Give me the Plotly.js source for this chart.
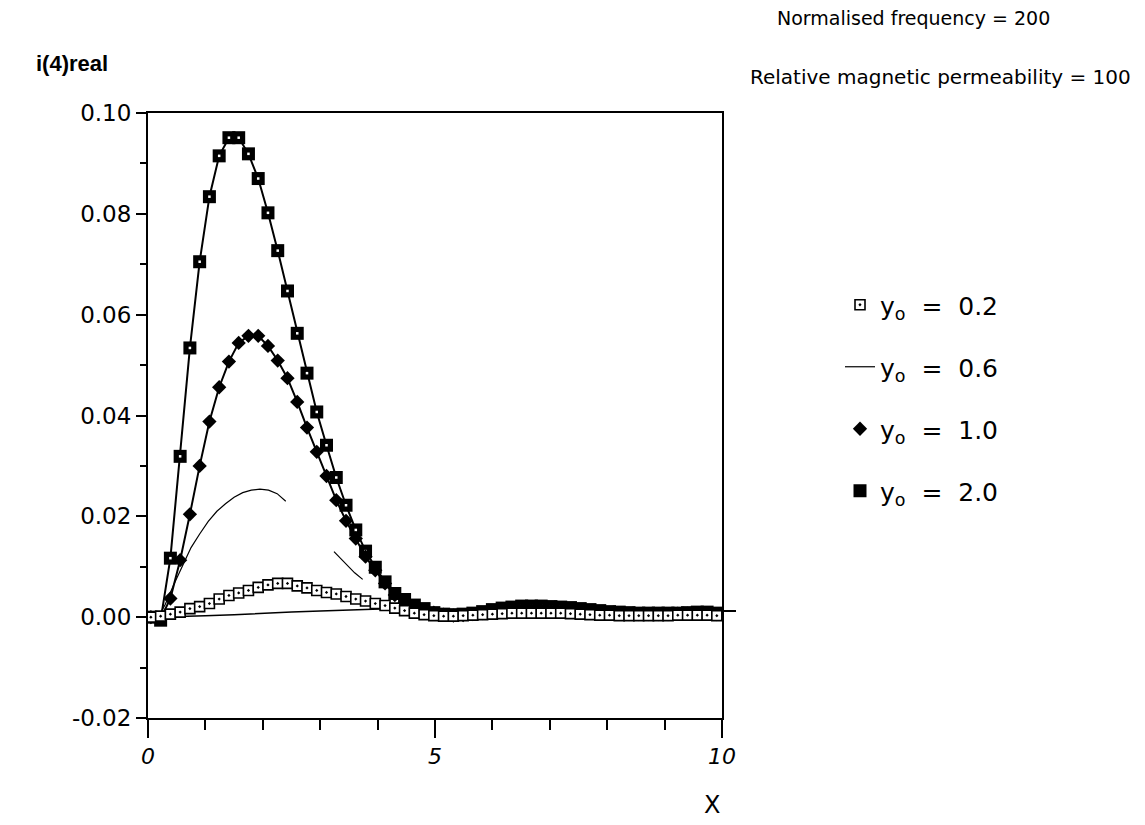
<!DOCTYPE html>
<html>
<head>
<meta charset="utf-8">
<script src="https://cdn.plot.ly/plotly-3.0.1.min.js"></script>
<style>
  html, body { margin: 0; padding: 0; background: #ffffff; }
  #chart { width: 1145px; height: 825px; }
</style>
</head>
<body>
<div id="chart"></div>
<script>
// Sample positions along x shared by the marker series
const xGrid = [0.05, 0.22, 0.39, 0.56, 0.73, 0.90, 1.07, 1.24, 1.41, 1.58,
  1.75, 1.92, 2.09, 2.26, 2.43, 2.60, 2.77, 2.94, 3.11, 3.28,
  3.45, 3.62, 3.79, 3.96, 4.13, 4.30, 4.47, 4.64, 4.81, 4.98,
  5.15, 5.32, 5.49, 5.66, 5.83, 6.00, 6.17, 6.34, 6.51, 6.68,
  6.85, 7.02, 7.19, 7.36, 7.53, 7.70, 7.87, 8.04, 8.21, 8.38,
  8.55, 8.72, 8.89, 9.06, 9.23, 9.40, 9.57, 9.74, 9.91];

// i(4)real for y0 = 0.2 (open squares)
const yo02 = [0.0000, 0.0002, 0.0006, 0.0010, 0.0017, 0.0021, 0.0027, 0.0036, 0.0043, 0.0048,
  0.0053, 0.0059, 0.0064, 0.0067, 0.0067, 0.0062, 0.0058, 0.0053, 0.0049, 0.0046,
  0.0041, 0.0036, 0.0032, 0.0027, 0.0023, 0.0018, 0.0013, 0.0008, 0.0005, 0.0003,
  0.0002, 0.0002, 0.0003, 0.0004, 0.0005, 0.0006, 0.0007, 0.0008, 0.0008, 0.0008,
  0.0008, 0.0008, 0.0008, 0.0007, 0.0006, 0.0005, 0.0004, 0.0004, 0.0003, 0.0003,
  0.0003, 0.0003, 0.0003, 0.0003, 0.0004, 0.0004, 0.0004, 0.0004, 0.0003];

// i(4)real for y0 = 1.0 (diamonds)
const yo10 = [0.0000, -0.0003, 0.0037, 0.0113, 0.0204, 0.0300, 0.0388, 0.0456, 0.0507, 0.0544,
  0.0558, 0.0558, 0.0538, 0.0509, 0.0474, 0.0427, 0.0376, 0.0328, 0.0280, 0.0232,
  0.0191, 0.0156, 0.0120, 0.0093, 0.0067, 0.0044, 0.0028, 0.0020, 0.0014, 0.0009,
  0.0005, 0.0003, 0.0004, 0.0006, 0.0008, 0.0010, 0.0012, 0.0013, 0.0014, 0.0014,
  0.0014, 0.0013, 0.0012, 0.0011, 0.0010, 0.0009, 0.0008, 0.0007, 0.0007, 0.0006,
  0.0006, 0.0006, 0.0006, 0.0006, 0.0007, 0.0007, 0.0007, 0.0007, 0.0006];

// i(4)real for y0 = 2.0 (filled squares)
const yo20 = [0.0000, -0.0006, 0.0117, 0.0319, 0.0534, 0.0705, 0.0834, 0.0915, 0.0951, 0.0951,
  0.0919, 0.0870, 0.0802, 0.0727, 0.0647, 0.0563, 0.0484, 0.0407, 0.0341, 0.0277,
  0.0222, 0.0173, 0.0131, 0.0099, 0.0070, 0.0047, 0.0035, 0.0024, 0.0017, 0.0009,
  0.0006, 0.0005, 0.0006, 0.0008, 0.0011, 0.0015, 0.0018, 0.0020, 0.0022, 0.0022,
  0.0022, 0.0021, 0.0020, 0.0019, 0.0017, 0.0015, 0.0013, 0.0011, 0.0010, 0.0009,
  0.0008, 0.0008, 0.0008, 0.0008, 0.0008, 0.0009, 0.0010, 0.0010, 0.0008];

// i(4)real for y0 = 0.6 (thin line, broken between 2.4 and 3.2)
const xYo06 = [0.20, 0.30, 0.45, 0.60, 0.75, 0.90, 1.05, 1.20, 1.35, 1.50,
  1.65, 1.80, 1.95, 2.10, 2.25, 2.40, 2.80, 3.24, 3.35, 3.46, 3.60, 3.74];
const yo06 = [0.0005, 0.0025, 0.0065, 0.0102, 0.0138, 0.0165, 0.0190, 0.0210, 0.0225, 0.0238,
  0.0247, 0.0252, 0.0254, 0.0252, 0.0245, 0.0230, null, 0.0130, 0.0117, 0.0103, 0.0088, 0.0075];

// faint curve lying just above zero
const xBase = [0.05, 0.5, 1.0, 1.5, 2.0, 2.5, 3.0, 3.5, 4.0, 4.3, 4.6, 5.0, 6.0, 7.0, 8.0, 9.0, 10.0];
const base = [0.0000, 0.0001, 0.0003, 0.0005, 0.0008, 0.0010, 0.0012, 0.0014, 0.0016, 0.0017,
  0.0015, 0.0012, 0.0010, 0.0010, 0.0011, 0.0012, 0.0013];

// axis ticks
const xTickVals = [0, 5, 10];
const xTickText = ['0', '5', '10'];
const yTickVals = [-0.02, 0.00, 0.02, 0.04, 0.06, 0.08, 0.10];
const yTickText = ['-0.02', '0.00', '0.02', '0.04', '0.06', '0.08', '0.10'];
const rightTick = [0.0013];

const legendFont = { family: 'DejaVu Sans', size: 25, color: '#000' };

const traces = [
  { x: xBase, y: base, mode: 'lines', line: { color: '#000', width: 1.5 },
    showlegend: false, hoverinfo: 'skip' },
  { x: xYo06, y: yo06, mode: 'lines', name: 'y<sub>o</sub>  =  0.6',
    line: { color: '#000', width: 1.2 }, connectgaps: false,
    legendgroup: 'g2', legendrank: 2 },
  { x: xGrid, y: yo20, mode: 'lines', line: { color: '#000', width: 2 },
    showlegend: false, hoverinfo: 'skip' },
  { x: xGrid, y: yo10, mode: 'lines', line: { color: '#000', width: 2 },
    showlegend: false, hoverinfo: 'skip' },
  { x: xGrid, y: yo20, mode: 'markers', name: 'y<sub>o</sub>  =  2.0',
    marker: { symbol: 'square', size: 13, color: '#000' },
    legendgroup: 'g4', legendrank: 4 },
  { x: xGrid, y: yo20, mode: 'markers',
    marker: { symbol: 'square', size: 2.5, color: '#fff' },
    showlegend: false, hoverinfo: 'skip' },
  { x: xGrid, y: yo10, mode: 'markers', name: 'y<sub>o</sub>  =  1.0',
    marker: { symbol: 'diamond', size: 11, color: '#000' },
    legendgroup: 'g3', legendrank: 3 },
  { x: xGrid, y: yo02, mode: 'markers', name: 'y<sub>o</sub>  =  0.2',
    marker: { symbol: 'square-dot', size: 10, color: '#fff', line: { color: '#000', width: 1.6 } },
    legendgroup: 'g1', legendrank: 1 },
  // carries the short marker on the right-hand frame
  { x: [null], y: [null], yaxis: 'y2', mode: 'lines', showlegend: false, hoverinfo: 'skip' }
];

const L = 148, T = 113, W = 574, H = 605;
const px = v => (v - L) / W;
const py = v => (T + H - v) / H;

const layout = {
  width: 1145, height: 825,
  margin: { l: L, r: 1145 - L - W, t: T, b: 825 - T - H },
  paper_bgcolor: '#fff', plot_bgcolor: '#fff',
  showlegend: true,
  legend: {
    x: px(840), y: py(282), xanchor: 'left', yanchor: 'top',
    font: legendFont, tracegroupgap: 26.5, bgcolor: 'rgba(0,0,0,0)'
  },
  xaxis: {
    range: [0, 10], showgrid: false, zeroline: false,
    showline: true, linecolor: '#000', linewidth: 2, mirror: true,
    tickmode: 'array', tickvals: xTickVals, ticktext: xTickText,
    ticks: 'outside', ticklen: 18, tickwidth: 2, tickcolor: '#000',
    minor: { dtick: 1, ticks: 'outside', ticklen: 10, tickwidth: 2, tickcolor: '#000', showgrid: false },
    tickfont: { family: 'DejaVu Sans', size: 22, style: 'italic', color: '#000' }
  },
  yaxis: {
    range: [-0.02, 0.10], showgrid: false, zeroline: false,
    showline: true, linecolor: '#000', linewidth: 2, mirror: true,
    tickmode: 'array', tickvals: yTickVals, ticktext: yTickText,
    ticks: 'outside', ticklen: 10, tickwidth: 2, tickcolor: '#000',
    minor: { dtick: 0.01, ticks: 'outside', ticklen: 6, tickwidth: 2, tickcolor: '#000', showgrid: false },
    tickfont: { family: 'DejaVu Sans', size: 23, color: '#000' }
  },
  yaxis2: {
    overlaying: 'y', side: 'right', range: [-0.02, 0.10],
    showgrid: false, zeroline: false, showline: false,
    tickmode: 'array', tickvals: rightTick, showticklabels: false,
    ticks: 'outside', ticklen: 13, tickwidth: 2, tickcolor: '#000'
  },
  annotations: [
    { text: '<b>i(4)real</b>', xref: 'paper', yref: 'paper', x: px(72), y: py(63),
      xanchor: 'center', yanchor: 'middle', showarrow: false,
      font: { family: 'Liberation Sans', size: 22, color: '#000' } },
    { text: 'Normalised frequency = 200', xref: 'paper', yref: 'paper', x: px(913), y: py(18),
      xanchor: 'center', yanchor: 'middle', showarrow: false,
      font: { family: 'DejaVu Sans', size: 19, color: '#000' } },
    { text: 'Relative magnetic permeability = 100', xref: 'paper', yref: 'paper', x: px(940), y: py(77),
      xanchor: 'center', yanchor: 'middle', showarrow: false,
      font: { family: 'DejaVu Sans', size: 20, color: '#000' } },
    { text: 'X', xref: 'paper', yref: 'paper', x: px(712), y: py(805),
      xanchor: 'center', yanchor: 'middle', showarrow: false,
      font: { family: 'DejaVu Sans', size: 24, color: '#000' } }
  ]
};

Plotly.newPlot('chart', traces, layout, { staticPlot: true, displayModeBar: false });
</script>
</body>
</html>
